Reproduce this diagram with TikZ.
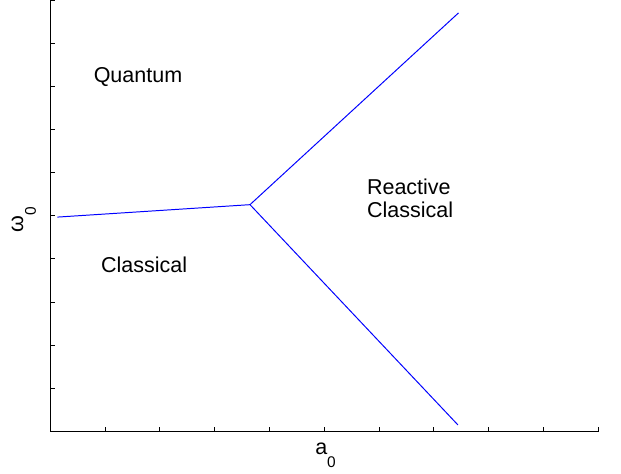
\documentclass[tikz,border=0pt]{standalone}
\usepackage{fontspec}
\setmainfont{Liberation Sans}
\newcommand{\lowsub}[1]{\raisebox{-0.6em}{\fontsize{11}{13}\selectfont #1}}
\begin{document}
\begin{tikzpicture}[x=1.37cm, y=1.079cm, font=\fontsize{15.3}{16}\selectfont,
    axisline/.style={line width=0.7pt, black},
    border/.style={line width=0.7pt, blue},
    region/.style={inner sep=0pt, anchor=base}]
    \useasboundingbox (-0.916,-0.98) rectangle (10.416,10);

    % Achsen
    \draw[axisline] (0,10) -- (0,0) -- (10,0);
    \foreach \k in {1,...,10} {
        \draw[axisline] (\k,0) -- ++(0,0.125cm);
        \draw[axisline] (0,\k) -- ++(0.125cm,0);
    }
    \node[inner sep=0pt, anchor=base west] (xlab) at (4.832,-0.54) {a\lowsub{0}};
    \node[inner sep=0pt, anchor=base west, rotate=90] (ylab) at (-0.496,4.603) {ω\lowsub{0}};

    % Grenzlinien
    \coordinate (left) at (0.13,4.97);
    \coordinate (triple) at (3.646,5.258);
    \coordinate (upper) at (7.45,9.7);
    \coordinate (lower) at (7.44,0.155);
    \draw[border] (left) -- (triple);
    \draw[border] (triple) -- (upper);
    \draw[border] (triple) -- (lower);

    % Bereiche
    \node[region] (quantum) at (1.602,8.084) {Quantum};
    \node[region] (classical) at (1.715,3.692) {Classical};
    \node[region, anchor=base west] (reactive) at (5.776,5.483) {Reactive};
    \node[region, anchor=base west] (reactclass) at (5.776,4.95) {Classical};
\end{tikzpicture}
\end{document}
